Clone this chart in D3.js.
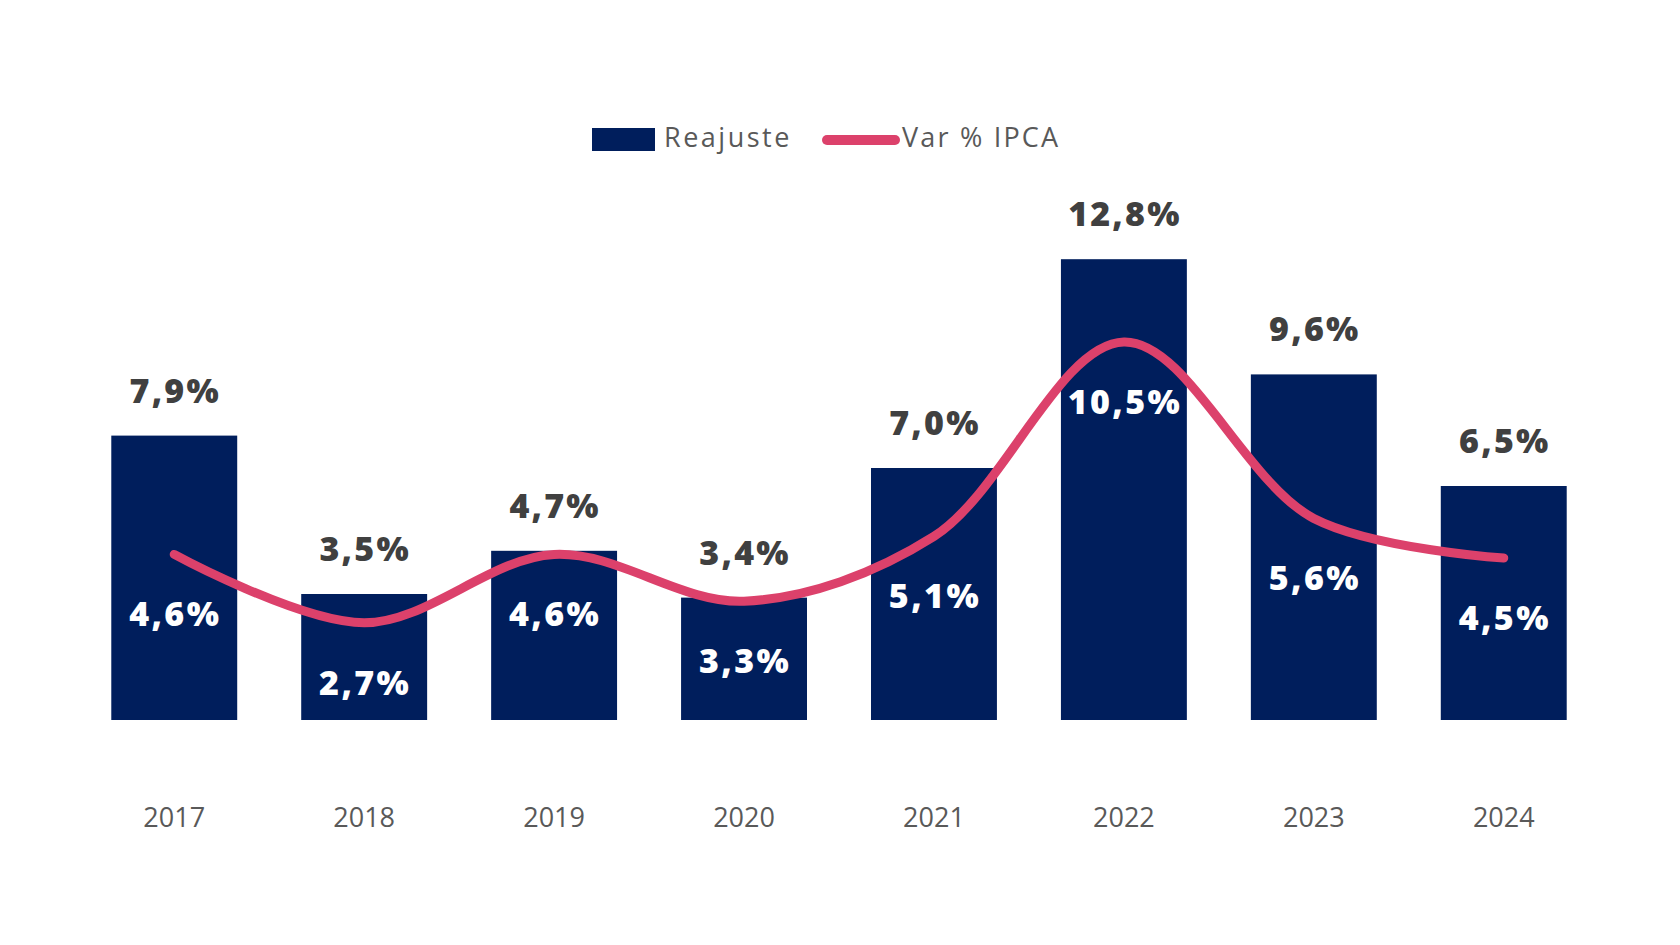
<!DOCTYPE html>
<html>
<head>
<meta charset="utf-8">
<script src="https://cdn.jsdelivr.net/npm/d3@7/dist/d3.min.js"></script>
<style>
  html, body { margin: 0; padding: 0; background: #ffffff; }
  svg { display: block; }
</style>
</head>
<body>
<svg id="chart" width="1680" height="945"></svg>
<script>
const years = ["2017", "2018", "2019", "2020", "2021", "2022", "2023", "2024"];
const reajuste = [7.9, 3.5, 4.7, 3.4, 7.0, 12.8, 9.6, 6.5];
const ipca = [4.6, 2.7, 4.6, 3.3, 5.1, 10.5, 5.6, 4.5];
const seriesNames = ["Reajuste", "Var % IPCA"];

const barColor = "#001e5c";
const lineColor = "#dc416b";
const fontFam = "'Open Sans', 'Noto Sans', sans-serif";

const svg = d3.select("#chart");
const fmt = v => d3.format(".1f")(v).replace(".", ",") + "%";

const x = d3.scaleBand().domain(years).range([79, 1599]).paddingInner(0.337).paddingOuter(0.17);
const y = d3.scaleLinear().domain([0, 20]).range([720, 0]);

// Bars
svg.append("g").selectAll("rect").data(years).join("rect")
  .attr("x", d => x(d))
  .attr("y", (d, i) => y(reajuste[i]))
  .attr("width", x.bandwidth())
  .attr("height", (d, i) => y(0) - y(reajuste[i]))
  .attr("fill", barColor);

// Top labels
svg.append("g").selectAll("text").data(years).join("text")
  .attr("x", d => x(d) + x.bandwidth() / 2 + 1)
  .attr("y", (d, i) => y(reajuste[i]) - 33)
  .attr("text-anchor", "middle")
  .attr("font-family", fontFam)
  .attr("font-weight", 800)
  .attr("font-size", 34)
  .attr("letter-spacing", 2.2)
  .attr("fill", "#404040")
  .text((d, i) => fmt(reajuste[i]));

// Line
const line = d3.line()
  .x((d, i) => x(years[i]) + x.bandwidth() / 2)
  .y(d => y(d))
  .curve(d3.curveCatmullRom.alpha(0.5));

svg.append("path")
  .datum(ipca)
  .attr("d", line)
  .attr("fill", "none")
  .attr("stroke", lineColor)
  .attr("stroke-width", 9)
  .attr("stroke-linecap", "round");

// Inner labels
svg.append("g").selectAll("text").data(years).join("text")
  .attr("x", d => x(d) + x.bandwidth() / 2 + 1)
  .attr("y", (d, i) => y(ipca[i]) + 72)
  .attr("text-anchor", "middle")
  .attr("font-family", fontFam)
  .attr("font-weight", 800)
  .attr("font-size", 34)
  .attr("letter-spacing", 2.4)
  .attr("fill", "#ffffff")
  .text((d, i) => fmt(ipca[i]));

// X axis
const xAxis = svg.append("g")
  .attr("transform", "translate(0,720)")
  .call(d3.axisBottom(x).tickSize(0).tickPadding(107));
xAxis.select(".domain").remove();
xAxis.selectAll("text")
  .attr("font-family", fontFam)
  .attr("font-size", 27)
  .attr("fill", "#595959")
  .attr("dy", "0");

// Legend
const lg = svg.append("g");
lg.append("rect").attr("x", 592).attr("y", 128).attr("width", 63).attr("height", 23).attr("fill", barColor);
lg.append("text").attr("x", 664).attr("y", 147)
  .attr("font-family", fontFam).attr("font-size", 27).attr("letter-spacing", 2.5)
  .attr("fill", "#595959").text(seriesNames[0]);
lg.append("line").attr("x1", 827).attr("x2", 895).attr("y1", 140).attr("y2", 140)
  .attr("stroke", lineColor).attr("stroke-width", 10).attr("stroke-linecap", "round");
lg.append("text").attr("x", 902).attr("y", 147)
  .attr("font-family", fontFam).attr("font-size", 27).attr("letter-spacing", 2.2)
  .attr("fill", "#595959").text(seriesNames[1]);
</script>
</body>
</html>
